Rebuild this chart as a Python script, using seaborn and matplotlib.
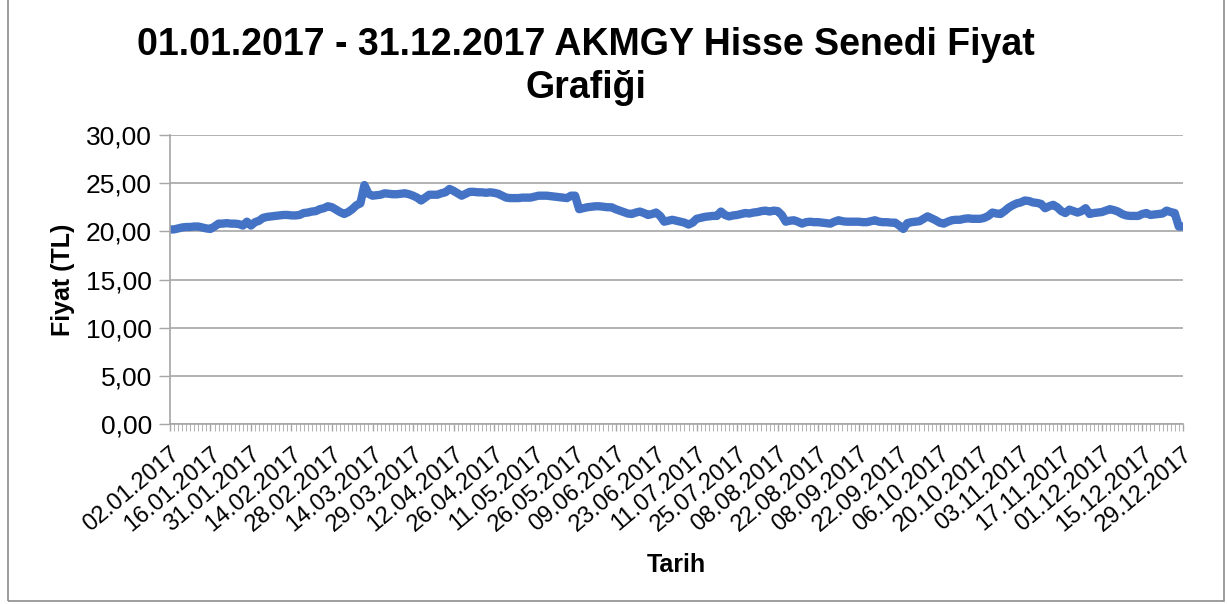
import matplotlib

matplotlib.use("Agg")

import matplotlib.pyplot as plt
import numpy as np
import pandas as pd
import seaborn as sns
from matplotlib.patches import Rectangle
from matplotlib.ticker import FuncFormatter, MultipleLocator


OUTPUT_PATH = "out.png"
LINE_COLOR = "#4472C4"
GRID_COLOR = "#A6A6A6"

# closing prices (TL), one per trading day
PRICES = [
    20.2, 20.2, 20.3, 20.4, 20.45, 20.45, 20.5, 20.5, 20.4, 20.3,
    20.25, 20.5, 20.8, 20.8, 20.85, 20.8, 20.8, 20.75, 20.6, 21.0,
    20.6, 20.95, 21.1, 21.4, 21.5, 21.55, 21.6, 21.65, 21.7, 21.7,
    21.65, 21.65, 21.7, 21.9, 21.95, 22.05, 22.1, 22.3, 22.4, 22.6,
    22.5, 22.25, 22.0, 21.8, 22.0, 22.3, 22.7, 22.9, 24.8, 23.9,
    23.7, 23.75, 23.8, 23.95, 23.9, 23.85, 23.85, 23.9, 23.95, 23.85,
    23.7, 23.5, 23.2, 23.5, 23.8, 23.8, 23.8, 23.95, 24.05, 24.4,
    24.2, 23.95, 23.7, 23.9, 24.1, 24.1, 24.05, 24.05, 24.0, 24.05,
    24.0, 23.9, 23.7, 23.5, 23.45, 23.45, 23.45, 23.5, 23.5, 23.5,
    23.6, 23.7, 23.7, 23.7, 23.65, 23.6, 23.55, 23.5, 23.45, 23.7,
    23.7, 22.3, 22.4, 22.5, 22.55, 22.6, 22.6, 22.55, 22.5, 22.5,
    22.3, 22.15, 22.0, 21.85, 21.8, 21.95, 22.05, 21.9, 21.7, 21.8,
    21.95, 21.6, 21.0, 21.1, 21.2, 21.1, 21.0, 20.9, 20.7, 20.9,
    21.3, 21.4, 21.5, 21.55, 21.6, 21.6, 22.05, 21.7, 21.55, 21.65,
    21.7, 21.8, 21.9, 21.85, 21.95, 22.0, 22.1, 22.15, 22.05, 22.15,
    22.1, 21.7, 21.0, 21.1, 21.15, 21.0, 20.8, 20.95, 21.0, 20.95,
    20.95, 20.9, 20.85, 20.8, 21.0, 21.15, 21.05, 21.0, 21.0, 21.0,
    21.0, 20.95, 20.95, 21.05, 21.15, 21.0, 20.95, 20.95, 20.9, 20.9,
    20.6, 20.25, 20.85, 20.95, 21.0, 21.05, 21.3, 21.55, 21.35, 21.15,
    20.9, 20.8, 21.0, 21.15, 21.2, 21.2, 21.3, 21.35, 21.3, 21.3,
    21.3, 21.4, 21.6, 21.95, 21.85, 21.8, 22.1, 22.45, 22.7, 22.9,
    23.0, 23.2, 23.15, 23.0, 22.95, 22.85, 22.4, 22.6, 22.75, 22.5,
    22.1, 21.9, 22.25, 22.1, 21.95, 22.1, 22.4, 21.8, 21.9, 21.95,
    22.0, 22.15, 22.3, 22.2, 22.05, 21.8, 21.65, 21.6, 21.6, 21.6,
    21.8, 21.9, 21.7, 21.75, 21.8, 21.85, 22.15, 22.0, 21.9, 20.5, 20.5,
]

# a date label is shown for every 10th trading day
DATE_LABELS = [
    "02.01.2017", "16.01.2017", "31.01.2017", "14.02.2017", "28.02.2017",
    "14.03.2017", "29.03.2017", "12.04.2017", "26.04.2017", "11.05.2017",
    "26.05.2017", "09.06.2017", "23.06.2017", "11.07.2017", "25.07.2017",
    "08.08.2017", "22.08.2017", "08.09.2017", "22.09.2017", "06.10.2017",
    "20.10.2017", "03.11.2017", "17.11.2017", "01.12.2017", "15.12.2017",
    "29.12.2017",
]
LABEL_STEP = 10

Y_TICKS = [0, 5, 10, 15, 20, 25, 30]

TITLE = "01.01.2017 - 31.12.2017 AKMGY Hisse Senedi Fiyat\nGrafiği"
X_LABEL = "Tarih"
Y_LABEL = "Fiyat (TL)"


def comma_decimal(value, _pos):
    return f"{value:.2f}".replace(".", ",")


def main() -> None:
    sns.set_theme(style="white")
    plt.rcParams["font.family"] = ["Liberation Sans", "DejaVu Sans"]
    plt.rcParams["text.color"] = "black"
    plt.rcParams["axes.labelcolor"] = "black"
    plt.rcParams["xtick.labelcolor"] = "black"
    plt.rcParams["ytick.labelcolor"] = "black"

    df = pd.DataFrame({"day": np.arange(len(PRICES)), "price": PRICES})

    fig = plt.figure(figsize=(12.27, 6.04), dpi=100)
    ax = fig.add_axes([0.1385, 0.298, 0.8255, 0.4785])

    sns.lineplot(
        data=df, x="day", y="price", ax=ax,
        color=LINE_COLOR, linewidth=6, solid_capstyle="round", solid_joinstyle="round",
    )

    ax.set_xlim(0, len(PRICES) - 1)
    ax.set_ylim(0, 30)
    ax.set_yticks(Y_TICKS)
    ax.yaxis.set_major_formatter(FuncFormatter(comma_decimal))
    ax.yaxis.grid(True, color=GRID_COLOR, linewidth=1.2)
    ax.set_axisbelow(True)

    tick_pos = np.arange(len(DATE_LABELS)) * LABEL_STEP
    ax.set_xticks(tick_pos)
    ax.set_xticklabels(DATE_LABELS, rotation=40, ha="right", rotation_mode="anchor")
    ax.xaxis.set_minor_locator(MultipleLocator(1))

    ax.tick_params(axis="y", which="major", direction="out", length=8, width=1,
                   color=GRID_COLOR, labelsize=19, pad=5, left=True)
    ax.tick_params(axis="x", which="major", direction="out", length=5, width=1,
                   color=GRID_COLOR, labelsize=17, pad=9, bottom=True)
    ax.tick_params(axis="x", which="minor", direction="out", length=5, width=0.6,
                   color=GRID_COLOR, bottom=True)

    for side in ("top", "right"):
        ax.spines[side].set_visible(False)
    for side in ("left", "bottom"):
        ax.spines[side].set_color(GRID_COLOR)
        ax.spines[side].set_linewidth(1.2)

    ax.set_xlabel(X_LABEL, fontsize=18, fontweight="bold")
    ax.xaxis.set_label_coords(0.5, -0.445)
    ax.set_ylabel(Y_LABEL, fontsize=18, fontweight="bold")
    ax.yaxis.set_label_coords(-0.094, 0.5)

    fig.text(0.4776, 1 - 27 / 604, TITLE, ha="center", va="top", multialignment="center",
             fontsize=27, fontweight="bold", linespacing=1.25)

    fig.patches.append(Rectangle((0.0065, 0.005), 0.991, 1.1, transform=fig.transFigure,
                                 fill=False, edgecolor="#8C8C8C", linewidth=1.2))

    fig.savefig(OUTPUT_PATH, dpi=100)
    plt.close(fig)


if __name__ == "__main__":
    main()
